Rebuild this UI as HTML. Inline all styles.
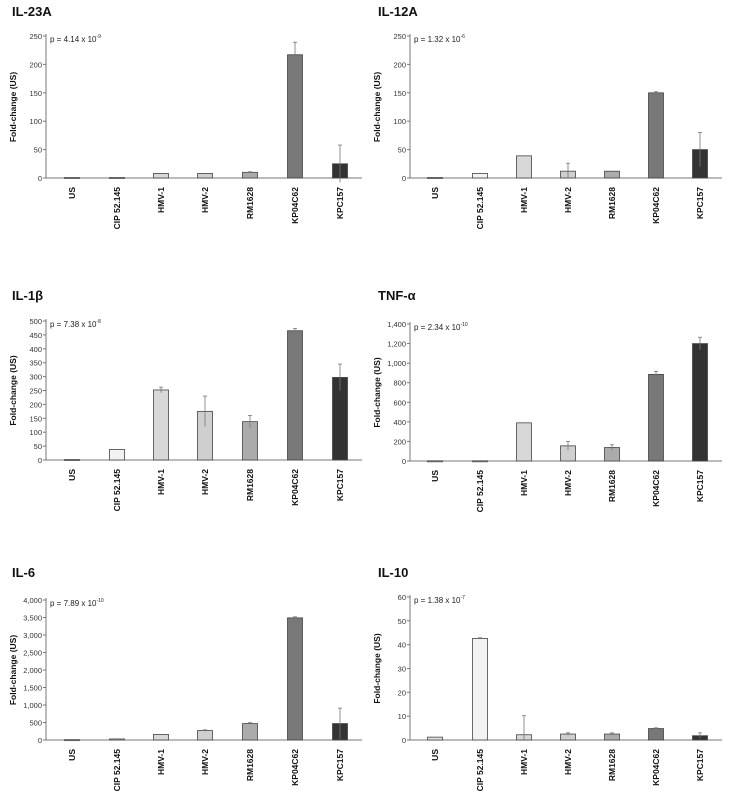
<!DOCTYPE html>
<html><head><meta charset="utf-8"><style>
body{margin:0;background:#fff}
svg{display:block;font-family:"Liberation Sans",sans-serif}
</style></head><body>
<svg id="s" width="734" height="802" viewBox="0 0 734 802" xmlns="http://www.w3.org/2000/svg"></svg>
<script>
const s=document.getElementById('s');let h='';
const cols=['#e2e2e2','#f2f2f2','#d8d8d8','#cfcfcf','#ababab','#787878','#333'];
const cats=['US','CIP 52.145','HMV-1','HMV-2','RM1628','KP04C62','KPC157'];
const L=[72,117,161,205,250,295,340],R=[435,480,524,568,612,656,700];
function fmt(v){return v>=1000?v.toLocaleString('en-US'):String(v)}
function panel(o){
 const {ax,end,zero,topY,max,step,cx,title,p,pe,data,err,tx}=o;
 const sc=(zero-topY)/max;
 h+=`<text x="${tx}" y="${o.ty}" font-size="13" font-weight="bold" fill="#111">${title}</text>`;
 h+=`<line x1="${ax}" y1="${topY-2}" x2="${ax}" y2="${zero}" stroke="#777" stroke-width="1"/>`;
 h+=`<line x1="${ax}" y1="${zero}" x2="${end}" y2="${zero}" stroke="#777" stroke-width="1"/>`;
 for(let v=0;v<=max+1e-9;v+=step){const y=zero-v*sc;
  h+=`<line x1="${ax-3}" y1="${y}" x2="${ax}" y2="${y}" stroke="#777"/>`;
  h+=`<text x="${ax-4}" y="${y+3}" font-size="7.5" text-anchor="end" fill="#333">${fmt(v)}</text>`;}
 h+=`<text x="${ax+4}" y="${topY+6}" font-size="8" fill="#222">p = ${p} x 10<tspan dy="-4" font-size="5">${pe}</tspan></text>`;
 const my=(zero+topY)/2;
 h+=`<text transform="translate(${ax-30},${my}) rotate(-90)" font-size="8.5" font-weight="bold" text-anchor="middle" fill="#111">Fold-change (US)</text>`;
 data.forEach((d,i)=>{const x=cx[i],w=15,y=zero-d*sc;
  h+=`<rect x="${x-w/2}" y="${y}" width="${w}" height="${Math.max(zero-y,1)}" fill="${cols[i]}" stroke="#444" stroke-width="0.8"/>`;
  const e=err[i];if(e){h+=`<line x1="${x}" y1="${zero-(d+e[0])*sc}" x2="${x}" y2="${zero-(d-e[1])*sc}" stroke="#777" stroke-width="0.8"/><line x1="${x-2}" y1="${zero-(d+e[0])*sc}" x2="${x+2}" y2="${zero-(d+e[0])*sc}" stroke="#777" stroke-width="0.8"/>`;}
  h+=`<text transform="translate(${x+3},${zero+9}) rotate(-90)" font-size="8.5" font-weight="bold" text-anchor="end" fill="#111">${cats[i]}</text>`;
 });
}
const Lb={ax:46,end:362,cx:L,tx:12},Rb={ax:410,end:722,cx:R,tx:378};
panel({...Lb,ty:16,zero:178,topY:36,max:250,step:50,title:'IL-23A',p:'4.14',pe:'-9',data:[1,1,8,8,10,217,25],err:[0,0,0,0,[1,1],[22,58],[33,33]]});
panel({...Rb,ty:16,zero:178,topY:36,max:250,step:50,title:'IL-12A',p:'1.32',pe:'-6',data:[1,8,39,12,12,150,50],err:[0,0,0,[14,12],0,[2,2],[30,30]]});
panel({...Lb,ty:300,zero:460,topY:321,max:500,step:50,title:'IL-1β',p:'7.38',pe:'-8',data:[2,38,252,175,138,465,297],err:[0,0,[10,10],[55,55],[22,22],[8,8],[48,48]]});
panel({...Rb,ty:300,zero:461,topY:324,max:1400,step:200,title:'TNF-α',p:'2.34',pe:'-10',data:[2,2,390,155,138,885,1200],err:[0,0,0,[45,45],[28,28],[30,30],[65,65]]});
panel({...Lb,ty:577,zero:740,topY:600,max:4000,step:500,title:'IL-6',p:'7.89',pe:'-10',data:[10,30,160,270,470,3490,470],err:[0,0,0,[20,20],[25,25],[30,30],[440,440]]});
panel({...Rb,ty:577,zero:740,topY:597,max:60,step:10,title:'IL-10',p:'1.38',pe:'-7',data:[1.2,42.6,2.2,2.5,2.5,4.8,1.8],err:[0,[0.3,0.3],[8,2],[0.5,0.5],[0.5,0.5],[0.3,0.3],[1.2,1.2]]});
s.innerHTML=h;
</script>
</body></html>
